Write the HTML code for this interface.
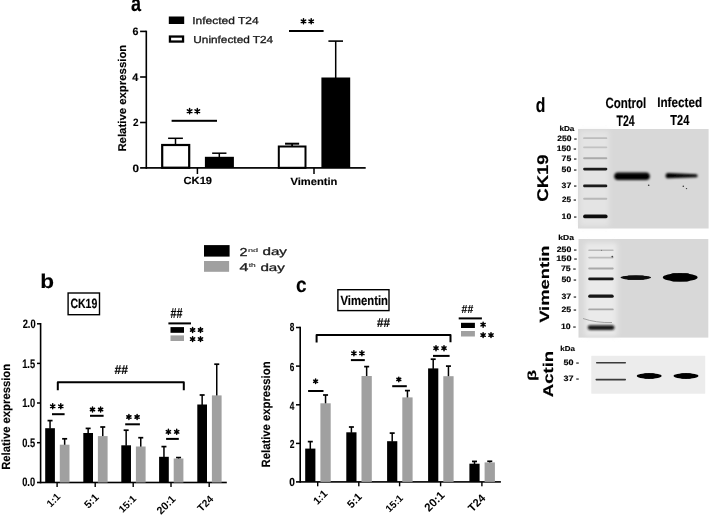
<!DOCTYPE html>
<html><head><meta charset="utf-8"><style>
html,body{margin:0;padding:0;background:#fff;}
body{width:709px;height:516px;overflow:hidden;font-family:"Liberation Sans",sans-serif;}
svg{display:block;will-change:transform;}
text{text-rendering:geometricPrecision;-webkit-font-smoothing:antialiased;}
</style></head><body>
<svg width="709" height="516" viewBox="0 0 709 516">
<defs>
<filter id="gb" filterUnits="userSpaceOnUse" x="0" y="0" width="709" height="516"><feGaussianBlur stdDeviation="0.35"/></filter>
<filter id="b1" x="-50%" y="-50%" width="200%" height="200%"><feGaussianBlur stdDeviation="0.6"/></filter>
<filter id="b2" x="-50%" y="-50%" width="200%" height="200%"><feGaussianBlur stdDeviation="1.0"/></filter>
<filter id="b3" x="-50%" y="-50%" width="200%" height="200%"><feGaussianBlur stdDeviation="2.5"/></filter>
</defs>
<rect width="709" height="516" fill="#fff"/>
<g filter="url(#gb)">
<rect x="168.80" y="16.50" width="15.40" height="7.50" fill="#000"/>
<rect x="169.95" y="36.55" width="13.10" height="5.00" fill="#fff" stroke="#000" stroke-width="2.30"/>
<rect x="145.50" y="30.70" width="1.60" height="138.10" fill="#000"/>
<rect x="140.10" y="30.60" width="6.20" height="1.60" fill="#000"/>
<rect x="140.10" y="76.20" width="6.20" height="1.60" fill="#000"/>
<rect x="140.10" y="121.70" width="6.20" height="1.60" fill="#000"/>
<rect x="140.10" y="167.05" width="225.60" height="1.70" fill="#000"/>
<rect x="196.65" y="168.00" width="1.50" height="6.00" fill="#000"/>
<rect x="313.25" y="168.00" width="1.50" height="6.00" fill="#000"/>
<rect x="174.75" y="138.30" width="1.50" height="6.70" fill="#000"/>
<rect x="168.10" y="137.55" width="14.80" height="1.50" fill="#000"/>
<rect x="162.20" y="145.00" width="27.00" height="22.70" fill="#fff" stroke="#000" stroke-width="2.20"/>
<rect x="218.55" y="153.20" width="1.50" height="3.80" fill="#000"/>
<rect x="212.15" y="152.45" width="14.30" height="1.50" fill="#000"/>
<rect x="204.90" y="156.80" width="29.00" height="11.10" fill="#000"/>
<rect x="291.20" y="143.70" width="1.80" height="2.30" fill="#000"/>
<rect x="285.05" y="142.70" width="14.10" height="2.00" fill="#000"/>
<rect x="278.80" y="146.50" width="26.70" height="21.30" fill="#fff" stroke="#000" stroke-width="2.00"/>
<rect x="334.95" y="41.10" width="1.50" height="36.90" fill="#000"/>
<rect x="328.40" y="40.30" width="14.60" height="1.60" fill="#000"/>
<rect x="321.40" y="77.50" width="28.80" height="90.50" fill="#000"/>
<rect x="171.60" y="119.80" width="45.40" height="2.00" fill="#000"/>
<path d="M189.60,113.85L189.60,108.55M187.31,112.53L191.89,109.88M187.31,109.88L191.89,112.53" stroke="#000" stroke-width="1.5" stroke-linecap="round" fill="none"/>
<circle cx="189.60" cy="111.20" r="0.9" fill="#000"/>
<path d="M197.30,113.85L197.30,108.55M195.01,112.53L199.59,109.88M195.01,109.88L199.59,112.53" stroke="#000" stroke-width="1.5" stroke-linecap="round" fill="none"/>
<circle cx="197.30" cy="111.20" r="0.9" fill="#000"/>
<rect x="289.00" y="30.00" width="34.60" height="2.00" fill="#000"/>
<path d="M303.50,23.85L303.50,18.75M301.29,22.57L305.71,20.03M301.29,20.03L305.71,22.57" stroke="#000" stroke-width="1.5" stroke-linecap="round" fill="none"/>
<circle cx="303.50" cy="21.30" r="0.9" fill="#000"/>
<path d="M311.20,23.85L311.20,18.75M308.99,22.57L313.41,20.03M308.99,20.03L313.41,22.57" stroke="#000" stroke-width="1.5" stroke-linecap="round" fill="none"/>
<circle cx="311.20" cy="21.30" r="0.9" fill="#000"/>
<rect x="204.00" y="245.10" width="25.60" height="11.50" fill="#000"/>
<rect x="204.00" y="261.00" width="25.10" height="10.80" fill="#a0a0a0"/>
<rect x="68.10" y="293.00" width="31.40" height="21.70" fill="#fff" stroke="#000" stroke-width="1.40"/>
<rect x="39.80" y="323.00" width="1.60" height="160.30" fill="#000"/>
<rect x="37.00" y="323.05" width="3.60" height="1.50" fill="#000"/>
<rect x="37.00" y="362.65" width="3.60" height="1.50" fill="#000"/>
<rect x="37.00" y="402.25" width="3.60" height="1.50" fill="#000"/>
<rect x="37.00" y="441.95" width="3.60" height="1.50" fill="#000"/>
<rect x="37.00" y="481.70" width="189.80" height="1.60" fill="#000"/>
<rect x="56.40" y="482.50" width="1.40" height="4.50" fill="#000"/>
<rect x="94.50" y="482.50" width="1.40" height="4.50" fill="#000"/>
<rect x="132.50" y="482.50" width="1.40" height="4.50" fill="#000"/>
<rect x="170.30" y="482.50" width="1.40" height="4.50" fill="#000"/>
<rect x="208.50" y="482.50" width="1.40" height="4.50" fill="#000"/>
<rect x="49.30" y="420.60" width="1.50" height="8.10" fill="#000"/>
<rect x="47.55" y="419.75" width="5.00" height="1.70" fill="#000"/>
<rect x="63.90" y="438.80" width="1.50" height="6.40" fill="#000"/>
<rect x="62.15" y="437.95" width="5.00" height="1.70" fill="#000"/>
<rect x="45.20" y="428.20" width="9.70" height="54.30" fill="#000"/>
<rect x="59.80" y="444.70" width="9.70" height="37.80" fill="#a0a0a0"/>
<rect x="87.40" y="428.40" width="1.50" height="5.10" fill="#000"/>
<rect x="85.65" y="427.55" width="5.00" height="1.70" fill="#000"/>
<rect x="102.00" y="427.00" width="1.50" height="9.60" fill="#000"/>
<rect x="100.25" y="426.15" width="5.00" height="1.70" fill="#000"/>
<rect x="83.30" y="433.00" width="9.70" height="49.50" fill="#000"/>
<rect x="97.90" y="436.10" width="9.70" height="46.40" fill="#a0a0a0"/>
<rect x="125.40" y="430.20" width="1.50" height="15.60" fill="#000"/>
<rect x="123.65" y="429.35" width="5.00" height="1.70" fill="#000"/>
<rect x="140.00" y="437.70" width="1.50" height="9.30" fill="#000"/>
<rect x="138.25" y="436.85" width="5.00" height="1.70" fill="#000"/>
<rect x="121.30" y="445.30" width="9.70" height="37.20" fill="#000"/>
<rect x="135.90" y="446.50" width="9.70" height="36.00" fill="#a0a0a0"/>
<rect x="163.20" y="446.60" width="1.50" height="10.70" fill="#000"/>
<rect x="161.45" y="445.75" width="5.00" height="1.70" fill="#000"/>
<rect x="177.80" y="457.60" width="1.50" height="1.40" fill="#000"/>
<rect x="176.05" y="456.75" width="5.00" height="1.70" fill="#000"/>
<rect x="159.10" y="456.80" width="9.70" height="25.70" fill="#000"/>
<rect x="173.70" y="458.50" width="9.70" height="24.00" fill="#a0a0a0"/>
<rect x="201.40" y="395.00" width="1.50" height="10.00" fill="#000"/>
<rect x="199.65" y="394.15" width="5.00" height="1.70" fill="#000"/>
<rect x="216.00" y="364.20" width="1.50" height="31.70" fill="#000"/>
<rect x="214.25" y="363.35" width="5.00" height="1.70" fill="#000"/>
<rect x="197.30" y="404.50" width="9.70" height="78.00" fill="#000"/>
<rect x="211.90" y="395.40" width="9.70" height="87.10" fill="#a0a0a0"/>
<rect x="52.00" y="413.20" width="12.60" height="2.00" fill="#000"/>
<path d="M52.70,408.75L52.70,403.85M50.58,407.53L54.82,405.07M50.58,405.07L54.82,407.53" stroke="#000" stroke-width="1.5" stroke-linecap="round" fill="none"/>
<circle cx="52.70" cy="406.30" r="0.9" fill="#000"/>
<path d="M60.80,408.75L60.80,403.85M58.68,407.53L62.92,405.07M58.68,405.07L62.92,407.53" stroke="#000" stroke-width="1.5" stroke-linecap="round" fill="none"/>
<circle cx="60.80" cy="406.30" r="0.9" fill="#000"/>
<rect x="90.00" y="414.80" width="13.60" height="2.00" fill="#000"/>
<path d="M92.50,411.95L92.50,407.05M90.38,410.73L94.62,408.27M90.38,408.27L94.62,410.73" stroke="#000" stroke-width="1.5" stroke-linecap="round" fill="none"/>
<circle cx="92.50" cy="409.50" r="0.9" fill="#000"/>
<path d="M100.60,411.95L100.60,407.05M98.48,410.73L102.72,408.27M98.48,408.27L102.72,410.73" stroke="#000" stroke-width="1.5" stroke-linecap="round" fill="none"/>
<circle cx="100.60" cy="409.50" r="0.9" fill="#000"/>
<rect x="125.20" y="423.30" width="14.70" height="2.00" fill="#000"/>
<path d="M128.90,419.45L128.90,414.55M126.78,418.23L131.02,415.77M126.78,415.77L131.02,418.23" stroke="#000" stroke-width="1.5" stroke-linecap="round" fill="none"/>
<circle cx="128.90" cy="417.00" r="0.9" fill="#000"/>
<path d="M137.10,419.45L137.10,414.55M134.98,418.23L139.22,415.77M134.98,415.77L139.22,418.23" stroke="#000" stroke-width="1.5" stroke-linecap="round" fill="none"/>
<circle cx="137.10" cy="417.00" r="0.9" fill="#000"/>
<rect x="166.10" y="437.90" width="12.70" height="2.00" fill="#000"/>
<path d="M168.40,434.25L168.40,429.35M166.28,433.03L170.52,430.57M166.28,430.57L170.52,433.03" stroke="#000" stroke-width="1.5" stroke-linecap="round" fill="none"/>
<circle cx="168.40" cy="431.80" r="0.9" fill="#000"/>
<path d="M176.70,434.25L176.70,429.35M174.58,433.03L178.82,430.57M174.58,430.57L178.82,433.03" stroke="#000" stroke-width="1.5" stroke-linecap="round" fill="none"/>
<circle cx="176.70" cy="431.80" r="0.9" fill="#000"/>
<path d="M57.8,390.2 L57.8,382.3 L183.8,382.3 L183.8,390.2" stroke="#000" stroke-width="2" stroke-linejoin="round" fill="none"/>
<rect x="168.40" y="322.40" width="22.60" height="2.00" fill="#000"/>
<rect x="170.50" y="327.10" width="13.50" height="5.70" fill="#000"/>
<rect x="170.50" y="335.40" width="13.50" height="5.60" fill="#a0a0a0"/>
<path d="M192.60,332.45L192.60,327.55M190.48,331.23L194.72,328.77M190.48,328.77L194.72,331.23" stroke="#000" stroke-width="1.5" stroke-linecap="round" fill="none"/>
<circle cx="192.60" cy="330.00" r="0.9" fill="#000"/>
<path d="M200.50,332.45L200.50,327.55M198.38,331.23L202.62,328.77M198.38,328.77L202.62,331.23" stroke="#000" stroke-width="1.5" stroke-linecap="round" fill="none"/>
<circle cx="200.50" cy="330.00" r="0.9" fill="#000"/>
<path d="M192.60,341.55L192.60,336.65M190.48,340.33L194.72,337.88M190.48,337.88L194.72,340.33" stroke="#000" stroke-width="1.5" stroke-linecap="round" fill="none"/>
<circle cx="192.60" cy="339.10" r="0.9" fill="#000"/>
<path d="M200.50,341.55L200.50,336.65M198.38,340.33L202.62,337.88M198.38,337.88L202.62,340.33" stroke="#000" stroke-width="1.5" stroke-linecap="round" fill="none"/>
<circle cx="200.50" cy="339.10" r="0.9" fill="#000"/>
<rect x="337.90" y="289.70" width="51.10" height="20.90" fill="#fff" stroke="#000" stroke-width="1.40"/>
<rect x="299.40" y="326.70" width="1.60" height="156.00" fill="#000"/>
<rect x="296.00" y="326.75" width="4.20" height="1.50" fill="#000"/>
<rect x="296.00" y="365.35" width="4.20" height="1.50" fill="#000"/>
<rect x="296.00" y="404.05" width="4.20" height="1.50" fill="#000"/>
<rect x="296.00" y="442.65" width="4.20" height="1.50" fill="#000"/>
<rect x="296.00" y="481.10" width="204.90" height="1.60" fill="#000"/>
<rect x="317.00" y="481.90" width="1.40" height="4.40" fill="#000"/>
<rect x="358.10" y="481.90" width="1.40" height="4.40" fill="#000"/>
<rect x="398.90" y="481.90" width="1.40" height="4.40" fill="#000"/>
<rect x="439.90" y="481.90" width="1.40" height="4.40" fill="#000"/>
<rect x="481.20" y="481.90" width="1.40" height="4.40" fill="#000"/>
<rect x="309.55" y="441.60" width="1.50" height="7.50" fill="#000"/>
<rect x="307.80" y="440.75" width="5.00" height="1.70" fill="#000"/>
<rect x="324.80" y="395.00" width="1.50" height="8.80" fill="#000"/>
<rect x="323.05" y="394.15" width="5.00" height="1.70" fill="#000"/>
<rect x="305.20" y="448.60" width="10.20" height="33.30" fill="#000"/>
<rect x="320.40" y="403.30" width="10.30" height="78.60" fill="#a0a0a0"/>
<rect x="350.65" y="427.00" width="1.50" height="5.80" fill="#000"/>
<rect x="348.90" y="426.15" width="5.00" height="1.70" fill="#000"/>
<rect x="365.90" y="366.60" width="1.50" height="9.90" fill="#000"/>
<rect x="364.15" y="365.75" width="5.00" height="1.70" fill="#000"/>
<rect x="346.30" y="432.30" width="10.20" height="49.60" fill="#000"/>
<rect x="361.50" y="376.00" width="10.30" height="105.90" fill="#a0a0a0"/>
<rect x="391.45" y="433.10" width="1.50" height="8.60" fill="#000"/>
<rect x="389.70" y="432.25" width="5.00" height="1.70" fill="#000"/>
<rect x="406.70" y="390.60" width="1.50" height="7.30" fill="#000"/>
<rect x="404.95" y="389.75" width="5.00" height="1.70" fill="#000"/>
<rect x="387.10" y="441.20" width="10.20" height="40.70" fill="#000"/>
<rect x="402.30" y="397.40" width="10.30" height="84.50" fill="#a0a0a0"/>
<rect x="432.45" y="359.20" width="1.50" height="9.70" fill="#000"/>
<rect x="430.70" y="358.35" width="5.00" height="1.70" fill="#000"/>
<rect x="447.70" y="366.10" width="1.50" height="10.60" fill="#000"/>
<rect x="445.95" y="365.25" width="5.00" height="1.70" fill="#000"/>
<rect x="428.10" y="368.40" width="10.20" height="113.50" fill="#000"/>
<rect x="443.30" y="376.20" width="10.30" height="105.70" fill="#a0a0a0"/>
<rect x="473.75" y="461.40" width="1.50" height="2.80" fill="#000"/>
<rect x="472.00" y="460.55" width="5.00" height="1.70" fill="#000"/>
<rect x="489.00" y="461.30" width="1.50" height="1.60" fill="#000"/>
<rect x="487.25" y="460.45" width="5.00" height="1.70" fill="#000"/>
<rect x="469.40" y="463.70" width="10.20" height="18.20" fill="#000"/>
<rect x="484.60" y="462.40" width="10.30" height="19.50" fill="#a0a0a0"/>
<rect x="308.10" y="390.00" width="15.40" height="2.00" fill="#000"/>
<path d="M315.60,383.55L315.60,379.05M313.65,382.43L317.55,380.18M313.65,380.18L317.55,382.43" stroke="#000" stroke-width="1.5" stroke-linecap="round" fill="none"/>
<circle cx="315.60" cy="381.30" r="0.9" fill="#000"/>
<rect x="350.90" y="359.10" width="13.90" height="2.00" fill="#000"/>
<path d="M353.90,355.75L353.90,350.85M351.78,354.53L356.02,352.07M351.78,352.07L356.02,354.53" stroke="#000" stroke-width="1.5" stroke-linecap="round" fill="none"/>
<circle cx="353.90" cy="353.30" r="0.9" fill="#000"/>
<path d="M361.90,355.75L361.90,350.85M359.78,354.53L364.02,352.07M359.78,352.07L364.02,354.53" stroke="#000" stroke-width="1.5" stroke-linecap="round" fill="none"/>
<circle cx="361.90" cy="353.30" r="0.9" fill="#000"/>
<rect x="392.20" y="385.20" width="14.60" height="2.00" fill="#000"/>
<path d="M398.80,381.65L398.80,377.15M396.85,380.52L400.75,378.27M396.85,378.27L400.75,380.52" stroke="#000" stroke-width="1.5" stroke-linecap="round" fill="none"/>
<circle cx="398.80" cy="379.40" r="0.9" fill="#000"/>
<rect x="433.00" y="354.90" width="16.60" height="2.00" fill="#000"/>
<path d="M436.00,350.65L436.00,345.75M433.88,349.43L438.12,346.97M433.88,346.97L438.12,349.43" stroke="#000" stroke-width="1.5" stroke-linecap="round" fill="none"/>
<circle cx="436.00" cy="348.20" r="0.9" fill="#000"/>
<path d="M444.00,350.65L444.00,345.75M441.88,349.43L446.12,346.97M441.88,346.97L446.12,349.43" stroke="#000" stroke-width="1.5" stroke-linecap="round" fill="none"/>
<circle cx="444.00" cy="348.20" r="0.9" fill="#000"/>
<path d="M316.6,342.5 L316.6,334.9 L450.5,334.9 L450.5,342.2" stroke="#000" stroke-width="2" stroke-linejoin="round" fill="none"/>
<rect x="458.70" y="317.40" width="23.20" height="2.00" fill="#000"/>
<rect x="461.00" y="322.80" width="13.90" height="5.20" fill="#000"/>
<rect x="461.00" y="331.00" width="13.90" height="5.50" fill="#a0a0a0"/>
<path d="M483.10,327.15L483.10,322.25M480.98,325.93L485.22,323.47M480.98,323.47L485.22,325.93" stroke="#000" stroke-width="1.5" stroke-linecap="round" fill="none"/>
<circle cx="483.10" cy="324.70" r="0.9" fill="#000"/>
<path d="M483.10,337.55L483.10,332.65M480.98,336.33L485.22,333.88M480.98,333.88L485.22,336.33" stroke="#000" stroke-width="1.5" stroke-linecap="round" fill="none"/>
<circle cx="483.10" cy="335.10" r="0.9" fill="#000"/>
<path d="M491.00,337.55L491.00,332.65M488.88,336.33L493.12,333.88M488.88,333.88L493.12,336.33" stroke="#000" stroke-width="1.5" stroke-linecap="round" fill="none"/>
<circle cx="491.00" cy="335.10" r="0.9" fill="#000"/>
<rect x="578.00" y="129.00" width="130.60" height="99.50" fill="#d8d8d8"/>
<rect x="580" y="131" width="29" height="95" fill="#e4e4e4" filter="url(#b3)"/>
<rect x="583.10" y="137.30" width="24.20" height="1.80" rx="0.90" ry="0.90" fill="#bdbdbd" opacity="1.0" filter="url(#b1)"/>
<rect x="583.10" y="146.40" width="24.20" height="1.80" rx="0.90" ry="0.90" fill="#c2c2c2" opacity="1.0" filter="url(#b1)"/>
<rect x="583.10" y="157.30" width="24.20" height="2.00" rx="1.00" ry="1.00" fill="#aaaaaa" opacity="1.0" filter="url(#b1)"/>
<rect x="583.10" y="167.80" width="24.20" height="2.60" rx="1.30" ry="1.30" fill="#1a1a1a" opacity="1.0" filter="url(#b1)"/>
<rect x="583.10" y="184.50" width="24.20" height="2.80" rx="1.40" ry="1.40" fill="#1a1a1a" opacity="1.0" filter="url(#b1)"/>
<rect x="583.10" y="197.80" width="24.20" height="2.00" rx="1.00" ry="1.00" fill="#b8b8b8" opacity="1.0" filter="url(#b1)"/>
<rect x="583.10" y="214.50" width="24.50" height="3.80" rx="1.90" ry="1.90" fill="#111" opacity="1.0" filter="url(#b1)"/>
<rect x="614.20" y="172.50" width="35.60" height="7.60" rx="3.80" ry="3.80" fill="#000" opacity="1.0" filter="url(#b2)"/>
<path d="M668.20,173.10 L696.10,174.20 A1.50,1.50 0 0 1 696.10,177.20 L668.20,178.30 A2.60,2.60 0 0 1 668.20,173.10 Z" fill="#050505" filter="url(#b2)"/>
<circle cx="648.70" cy="185.30" r="0.80" fill="#333" filter="url(#b1)"/>
<circle cx="683.30" cy="186.30" r="0.80" fill="#333" filter="url(#b1)"/>
<circle cx="686.50" cy="188.60" r="0.70" fill="#333" filter="url(#b1)"/>
<rect x="578.50" y="239.00" width="129.80" height="98.60" fill="#d8d8d8"/>
<rect x="585" y="243" width="32" height="93" fill="#eaeaea" filter="url(#b3)"/>
<rect x="588.20" y="249.50" width="25.50" height="1.60" rx="0.80" ry="0.80" fill="#b8b8b8" opacity="1.0" filter="url(#b1)"/>
<rect x="588.20" y="256.80" width="25.50" height="1.60" rx="0.80" ry="0.80" fill="#bcbcbc" opacity="1.0" filter="url(#b1)"/>
<rect x="588.20" y="267.40" width="25.50" height="2.00" rx="1.00" ry="1.00" fill="#a8a8a8" opacity="1.0" filter="url(#b1)"/>
<circle cx="612.30" cy="256.60" r="0.90" fill="#444" filter="url(#b1)"/>
<circle cx="601.50" cy="250.30" r="0.60" fill="#777" filter="url(#b1)"/>
<rect x="588.20" y="277.50" width="25.50" height="2.80" rx="1.40" ry="1.40" fill="#151515" opacity="1.0" filter="url(#b1)"/>
<rect x="588.20" y="294.60" width="25.50" height="3.20" rx="1.60" ry="1.60" fill="#151515" opacity="1.0" filter="url(#b1)"/>
<rect x="588.20" y="308.50" width="25.50" height="1.80" rx="0.90" ry="0.90" fill="#a8a8a8" opacity="1.0" filter="url(#b1)"/>
<rect x="587.70" y="325.30" width="26.80" height="4.60" rx="2.30" ry="2.30" fill="#151515" opacity="1.0" filter="url(#b2)"/>
<path d="M583,318.5 Q596,323 612,322.5" stroke="#9a9a9a" stroke-width="0.9" fill="none" filter="url(#b1)"/>
<g filter="url(#b1)" fill="#080808"><ellipse cx="635.80" cy="277.60" rx="15.20" ry="2.20"/><rect x="626.68" y="275.40" width="18.24" height="4.40" rx="1.98"/></g>
<g filter="url(#b1)" fill="#000"><ellipse cx="680.20" cy="277.40" rx="17.40" ry="4.10"/><rect x="669.76" y="273.30" width="20.88" height="8.20" rx="3.69"/></g>
<rect x="591.30" y="355.80" width="113.90" height="37.90" fill="#ececec"/>
<rect x="596.00" y="361.90" width="30.00" height="1.60" rx="0.60" ry="0.80" fill="#3a3a3a" opacity="1.0" filter="url(#b1)"/>
<rect x="595.50" y="378.80" width="30.50" height="1.60" rx="0.60" ry="0.80" fill="#3a3a3a" opacity="1.0" filter="url(#b1)"/>
<g filter="url(#b1)" fill="#000"><ellipse cx="649.20" cy="376.00" rx="12.40" ry="2.70"/><rect x="643.00" y="373.30" width="12.40" height="5.40" rx="2.43"/></g>
<g filter="url(#b1)" fill="#000"><ellipse cx="686.00" cy="376.00" rx="12.40" ry="2.70"/><rect x="679.80" y="373.30" width="12.40" height="5.40" rx="2.43"/></g>
<text x="131.10" y="11.30" font-family="Liberation Sans" font-weight="bold" font-size="22.51" fill="#000" stroke="#000" stroke-width="0.15" textLength="10.02" lengthAdjust="spacingAndGlyphs">a</text>
<text x="192.30" y="23.90" font-family="Liberation Sans" font-weight="normal" font-size="10.14" fill="#1a1a1a" stroke="#1a1a1a" stroke-width="0.3" textLength="66.31" lengthAdjust="spacingAndGlyphs">Infected T24</text>
<text x="193.30" y="42.60" font-family="Liberation Sans" font-weight="normal" font-size="10.14" fill="#1a1a1a" stroke="#1a1a1a" stroke-width="0.3" textLength="79.89" lengthAdjust="spacingAndGlyphs">Uninfected T24</text>
<text x="132.60" y="35.40" font-family="Liberation Sans" font-weight="bold" font-size="10.74" fill="#000" stroke="#000" stroke-width="0.15" textLength="5.99" lengthAdjust="spacingAndGlyphs">6</text>
<text x="132.20" y="80.90" font-family="Liberation Sans" font-weight="bold" font-size="10.74" fill="#000" stroke="#000" stroke-width="0.15" textLength="6.05" lengthAdjust="spacingAndGlyphs">4</text>
<text x="132.90" y="125.70" font-family="Liberation Sans" font-weight="bold" font-size="10.74" fill="#000" stroke="#000" stroke-width="0.15" textLength="5.55" lengthAdjust="spacingAndGlyphs">2</text>
<text x="132.40" y="171.90" font-family="Liberation Sans" font-weight="bold" font-size="10.74" fill="#000" stroke="#000" stroke-width="0.15" textLength="6.54" lengthAdjust="spacingAndGlyphs">0</text>
<text x="126.00" y="151.60" font-family="Liberation Sans" font-weight="bold" font-size="11.24" fill="#000" stroke="#000" stroke-width="0.15" textLength="106.90" lengthAdjust="spacingAndGlyphs" transform="rotate(-90 126.00 151.60)">Relative expression</text>
<text x="183.60" y="184.00" font-family="Liberation Sans" font-weight="bold" font-size="10.34" fill="#000" stroke="#000" stroke-width="0.15" textLength="28.43" lengthAdjust="spacingAndGlyphs">CK19</text>
<text x="290.50" y="184.60" font-family="Liberation Sans" font-weight="bold" font-size="10.34" fill="#000" stroke="#000" stroke-width="0.15" textLength="46.92" lengthAdjust="spacingAndGlyphs">Vimentin</text>
<text x="40.20" y="288.10" font-family="Liberation Sans" font-weight="bold" font-size="19.97" fill="#000" stroke="#000" stroke-width="0.15" textLength="13.78" lengthAdjust="spacingAndGlyphs">b</text>
<text x="239.60" y="256.00" font-family="Liberation Sans" font-weight="normal" font-size="11.45" fill="#1a1a1a" stroke="#1a1a1a" stroke-width="0.3" textLength="8.04" lengthAdjust="spacingAndGlyphs">2</text>
<text x="247.90" y="251.70" font-family="Liberation Sans" font-weight="normal" font-size="5.29" fill="#1a1a1a" stroke="#1a1a1a" stroke-width="0.1" textLength="10.13" lengthAdjust="spacingAndGlyphs">nd</text>
<text x="262.50" y="254.80" font-family="Liberation Sans" font-weight="normal" font-size="10.78" fill="#1a1a1a" stroke="#1a1a1a" stroke-width="0.3" textLength="24.46" lengthAdjust="spacingAndGlyphs">day</text>
<text x="239.50" y="271.00" font-family="Liberation Sans" font-weight="normal" font-size="11.29" fill="#1a1a1a" stroke="#1a1a1a" stroke-width="0.3" textLength="8.92" lengthAdjust="spacingAndGlyphs">4</text>
<text x="248.80" y="267.10" font-family="Liberation Sans" font-weight="normal" font-size="5.43" fill="#1a1a1a" stroke="#1a1a1a" stroke-width="0.1" textLength="7.00" lengthAdjust="spacingAndGlyphs">th</text>
<text x="260.40" y="271.40" font-family="Liberation Sans" font-weight="normal" font-size="10.50" fill="#1a1a1a" stroke="#1a1a1a" stroke-width="0.3" textLength="24.46" lengthAdjust="spacingAndGlyphs">day</text>
<text x="70.40" y="308.40" font-family="Liberation Sans" font-weight="bold" font-size="13.50" fill="#000" stroke="#000" stroke-width="0.15" textLength="26.93" lengthAdjust="spacingAndGlyphs">CK19</text>
<text x="22.70" y="327.90" font-family="Liberation Sans" font-weight="bold" font-size="12.23" fill="#000" stroke="#000" stroke-width="0.15" textLength="12.95" lengthAdjust="spacingAndGlyphs">2.0</text>
<text x="22.20" y="367.80" font-family="Liberation Sans" font-weight="bold" font-size="12.23" fill="#000" stroke="#000" stroke-width="0.15" textLength="12.95" lengthAdjust="spacingAndGlyphs">1.5</text>
<text x="22.20" y="407.00" font-family="Liberation Sans" font-weight="bold" font-size="12.23" fill="#000" stroke="#000" stroke-width="0.15" textLength="12.95" lengthAdjust="spacingAndGlyphs">1.0</text>
<text x="22.20" y="446.90" font-family="Liberation Sans" font-weight="bold" font-size="12.23" fill="#000" stroke="#000" stroke-width="0.15" textLength="12.95" lengthAdjust="spacingAndGlyphs">0.5</text>
<text x="22.20" y="486.30" font-family="Liberation Sans" font-weight="bold" font-size="12.23" fill="#000" stroke="#000" stroke-width="0.15" textLength="12.95" lengthAdjust="spacingAndGlyphs">0.0</text>
<text x="9.70" y="469.80" font-family="Liberation Sans" font-weight="bold" font-size="11.78" fill="#000" stroke="#000" stroke-width="0.15" textLength="105.92" lengthAdjust="spacingAndGlyphs" transform="rotate(-90 9.70 469.80)">Relative expression</text>
<text x="50.70" y="507.70" font-family="Liberation Sans" font-weight="bold" font-size="10.11" fill="#000" textLength="14.61" lengthAdjust="spacingAndGlyphs" transform="rotate(-45 50.70 507.70)">1:1</text>
<text x="88.40" y="508.90" font-family="Liberation Sans" font-weight="bold" font-size="10.74" fill="#000" textLength="15.53" lengthAdjust="spacingAndGlyphs" transform="rotate(-45 88.40 508.90)">5:1</text>
<text x="122.80" y="513.30" font-family="Liberation Sans" font-weight="bold" font-size="9.87" fill="#000" textLength="19.75" lengthAdjust="spacingAndGlyphs" transform="rotate(-45 122.80 513.30)">15:1</text>
<text x="161.00" y="515.10" font-family="Liberation Sans" font-weight="bold" font-size="10.82" fill="#000" textLength="21.66" lengthAdjust="spacingAndGlyphs" transform="rotate(-45 161.00 515.10)">20:1</text>
<text x="201.50" y="512.30" font-family="Liberation Sans" font-weight="bold" font-size="10.26" fill="#000" textLength="17.67" lengthAdjust="spacingAndGlyphs" transform="rotate(-45 201.50 512.30)">T24</text>
<text x="170.60" y="318.00" font-family="Liberation Sans" font-weight="bold" font-size="14.16" fill="#000" stroke="#000" stroke-width="0.15" textLength="12.01" lengthAdjust="spacingAndGlyphs">##</text>
<text x="114.60" y="373.90" font-family="Liberation Sans" font-weight="bold" font-size="12.72" fill="#000" stroke="#000" stroke-width="0.15" textLength="13.49" lengthAdjust="spacingAndGlyphs">##</text>
<text x="295.90" y="292.30" font-family="Liberation Sans" font-weight="bold" font-size="21.19" fill="#000" stroke="#000" stroke-width="0.15" textLength="10.60" lengthAdjust="spacingAndGlyphs">c</text>
<text x="340.50" y="305.10" font-family="Liberation Sans" font-weight="bold" font-size="13.27" fill="#000" stroke="#000" stroke-width="0.15" textLength="47.48" lengthAdjust="spacingAndGlyphs">Vimentin</text>
<text x="289.70" y="331.40" font-family="Liberation Sans" font-weight="bold" font-size="11.76" fill="#000" stroke="#000" stroke-width="0.15" textLength="4.60" lengthAdjust="spacingAndGlyphs">8</text>
<text x="289.70" y="370.60" font-family="Liberation Sans" font-weight="bold" font-size="11.76" fill="#000" stroke="#000" stroke-width="0.15" textLength="4.60" lengthAdjust="spacingAndGlyphs">6</text>
<text x="289.70" y="409.50" font-family="Liberation Sans" font-weight="bold" font-size="11.76" fill="#000" stroke="#000" stroke-width="0.15" textLength="4.60" lengthAdjust="spacingAndGlyphs">4</text>
<text x="289.70" y="447.70" font-family="Liberation Sans" font-weight="bold" font-size="11.76" fill="#000" stroke="#000" stroke-width="0.15" textLength="4.77" lengthAdjust="spacingAndGlyphs">2</text>
<text x="289.20" y="486.20" font-family="Liberation Sans" font-weight="bold" font-size="11.76" fill="#000" stroke="#000" stroke-width="0.15" textLength="5.63" lengthAdjust="spacingAndGlyphs">0</text>
<text x="269.80" y="467.40" font-family="Liberation Sans" font-weight="bold" font-size="12.00" fill="#000" stroke="#000" stroke-width="0.15" textLength="105.93" lengthAdjust="spacingAndGlyphs" transform="rotate(-90 269.80 467.40)">Relative expression</text>
<text x="317.40" y="505.20" font-family="Liberation Sans" font-weight="bold" font-size="10.54" fill="#000" textLength="15.23" lengthAdjust="spacingAndGlyphs" transform="rotate(-45 317.40 505.20)">1:1</text>
<text x="351.50" y="508.70" font-family="Liberation Sans" font-weight="bold" font-size="10.89" fill="#000" textLength="15.74" lengthAdjust="spacingAndGlyphs" transform="rotate(-45 351.50 508.70)">5:1</text>
<text x="389.60" y="512.80" font-family="Liberation Sans" font-weight="bold" font-size="9.93" fill="#000" textLength="19.87" lengthAdjust="spacingAndGlyphs" transform="rotate(-45 389.60 512.80)">15:1</text>
<text x="429.00" y="512.30" font-family="Liberation Sans" font-weight="bold" font-size="11.52" fill="#000" textLength="23.06" lengthAdjust="spacingAndGlyphs" transform="rotate(-45 429.00 512.30)">20:1</text>
<text x="472.50" y="512.40" font-family="Liberation Sans" font-weight="bold" font-size="11.11" fill="#000" textLength="19.14" lengthAdjust="spacingAndGlyphs" transform="rotate(-45 472.50 512.40)">T24</text>
<text x="461.60" y="313.20" font-family="Liberation Sans" font-weight="bold" font-size="11.76" fill="#000" stroke="#000" stroke-width="0.15" textLength="11.61" lengthAdjust="spacingAndGlyphs">##</text>
<text x="377.10" y="327.30" font-family="Liberation Sans" font-weight="bold" font-size="12.81" fill="#000" stroke="#000" stroke-width="0.15" textLength="13.03" lengthAdjust="spacingAndGlyphs">##</text>
<text x="535.70" y="112.10" font-family="Liberation Sans" font-weight="bold" font-size="20.48" fill="#000" stroke="#000" stroke-width="0.15" textLength="9.61" lengthAdjust="spacingAndGlyphs">d</text>
<text x="605.40" y="107.90" font-family="Liberation Sans" font-weight="bold" font-size="14.82" fill="#000" stroke="#000" stroke-width="0.15" textLength="40.87" lengthAdjust="spacingAndGlyphs">Control</text>
<text x="616.60" y="125.80" font-family="Liberation Sans" font-weight="bold" font-size="15.39" fill="#000" stroke="#000" stroke-width="0.15" textLength="18.07" lengthAdjust="spacingAndGlyphs">T24</text>
<text x="657.20" y="106.80" font-family="Liberation Sans" font-weight="bold" font-size="13.72" fill="#000" stroke="#000" stroke-width="0.15" textLength="44.88" lengthAdjust="spacingAndGlyphs">Infected</text>
<text x="670.30" y="124.90" font-family="Liberation Sans" font-weight="bold" font-size="14.48" fill="#000" stroke="#000" stroke-width="0.15" textLength="19.04" lengthAdjust="spacingAndGlyphs">T24</text>
<text x="548.40" y="201.70" font-family="Liberation Sans" font-weight="bold" font-size="15.52" fill="#000" stroke="#000" stroke-width="0.15" textLength="47.38" lengthAdjust="spacingAndGlyphs" transform="rotate(-90 548.40 201.70)">CK19</text>
<text x="548.70" y="322.80" font-family="Liberation Sans" font-weight="bold" font-size="13.39" fill="#000" stroke="#000" stroke-width="0.15" textLength="77.35" lengthAdjust="spacingAndGlyphs" transform="rotate(-90 548.70 322.80)">Vimentin</text>
<text x="552.90" y="397.20" font-family="Liberation Sans" font-weight="bold" font-size="14.11" fill="#000" stroke="#000" stroke-width="0.15" textLength="46.37" lengthAdjust="spacingAndGlyphs" transform="rotate(-90 552.90 397.20)">Actin</text>
<text x="536.20" y="381.10" font-family="Liberation Sans" font-weight="bold" font-size="11.78" fill="#000" stroke="#000" stroke-width="0.15" textLength="11.22" lengthAdjust="spacingAndGlyphs" transform="rotate(-90 536.20 381.10)">β</text>
<text x="559.40" y="130.70" font-family="Liberation Sans" font-weight="bold" font-size="7.17" fill="#000" stroke="#000" stroke-width="0.15" textLength="14.98" lengthAdjust="spacingAndGlyphs">kDa</text>
<text x="557.30" y="141.15" font-family="Liberation Sans" font-weight="bold" font-size="7.81" fill="#000" stroke="#000" stroke-width="0.15" textLength="19.52" lengthAdjust="spacingAndGlyphs">250 -</text>
<text x="556.80" y="151.05" font-family="Liberation Sans" font-weight="bold" font-size="7.81" fill="#000" stroke="#000" stroke-width="0.15" textLength="19.52" lengthAdjust="spacingAndGlyphs">150 -</text>
<text x="561.60" y="161.15" font-family="Liberation Sans" font-weight="bold" font-size="7.81" fill="#000" stroke="#000" stroke-width="0.15" textLength="14.94" lengthAdjust="spacingAndGlyphs">75 -</text>
<text x="561.60" y="172.15" font-family="Liberation Sans" font-weight="bold" font-size="7.81" fill="#000" stroke="#000" stroke-width="0.15" textLength="15.01" lengthAdjust="spacingAndGlyphs">50 -</text>
<text x="561.60" y="187.95" font-family="Liberation Sans" font-weight="bold" font-size="7.81" fill="#000" stroke="#000" stroke-width="0.15" textLength="15.01" lengthAdjust="spacingAndGlyphs">37 -</text>
<text x="562.10" y="202.25" font-family="Liberation Sans" font-weight="bold" font-size="7.81" fill="#000" stroke="#000" stroke-width="0.15" textLength="14.04" lengthAdjust="spacingAndGlyphs">25 -</text>
<text x="561.60" y="219.15" font-family="Liberation Sans" font-weight="bold" font-size="7.81" fill="#000" stroke="#000" stroke-width="0.15" textLength="15.01" lengthAdjust="spacingAndGlyphs">10 -</text>
<text x="558.30" y="240.00" font-family="Liberation Sans" font-weight="bold" font-size="7.35" fill="#000" stroke="#000" stroke-width="0.15" textLength="15.60" lengthAdjust="spacingAndGlyphs">kDa</text>
<text x="556.70" y="251.55" font-family="Liberation Sans" font-weight="bold" font-size="7.81" fill="#000" stroke="#000" stroke-width="0.15" textLength="19.99" lengthAdjust="spacingAndGlyphs">250 -</text>
<text x="556.20" y="260.75" font-family="Liberation Sans" font-weight="bold" font-size="7.81" fill="#000" stroke="#000" stroke-width="0.15" textLength="20.93" lengthAdjust="spacingAndGlyphs">150 -</text>
<text x="560.90" y="270.95" font-family="Liberation Sans" font-weight="bold" font-size="7.81" fill="#000" stroke="#000" stroke-width="0.15" textLength="15.11" lengthAdjust="spacingAndGlyphs">75 -</text>
<text x="561.40" y="282.25" font-family="Liberation Sans" font-weight="bold" font-size="7.81" fill="#000" stroke="#000" stroke-width="0.15" textLength="15.05" lengthAdjust="spacingAndGlyphs">50 -</text>
<text x="561.40" y="299.05" font-family="Liberation Sans" font-weight="bold" font-size="7.81" fill="#000" stroke="#000" stroke-width="0.15" textLength="15.05" lengthAdjust="spacingAndGlyphs">37 -</text>
<text x="561.40" y="311.85" font-family="Liberation Sans" font-weight="bold" font-size="7.81" fill="#000" stroke="#000" stroke-width="0.15" textLength="15.05" lengthAdjust="spacingAndGlyphs">25 -</text>
<text x="560.90" y="329.15" font-family="Liberation Sans" font-weight="bold" font-size="7.81" fill="#000" stroke="#000" stroke-width="0.15" textLength="15.11" lengthAdjust="spacingAndGlyphs">10 -</text>
<text x="560.30" y="350.50" font-family="Liberation Sans" font-weight="bold" font-size="7.17" fill="#000" stroke="#000" stroke-width="0.15" textLength="14.60" lengthAdjust="spacingAndGlyphs">kDa</text>
<text x="563.40" y="364.65" font-family="Liberation Sans" font-weight="bold" font-size="7.81" fill="#000" stroke="#000" stroke-width="0.15" textLength="15.54" lengthAdjust="spacingAndGlyphs">50 -</text>
<text x="563.40" y="381.15" font-family="Liberation Sans" font-weight="bold" font-size="7.81" fill="#000" stroke="#000" stroke-width="0.15" textLength="15.54" lengthAdjust="spacingAndGlyphs">37 -</text>
</g>
</svg>
</body></html>
